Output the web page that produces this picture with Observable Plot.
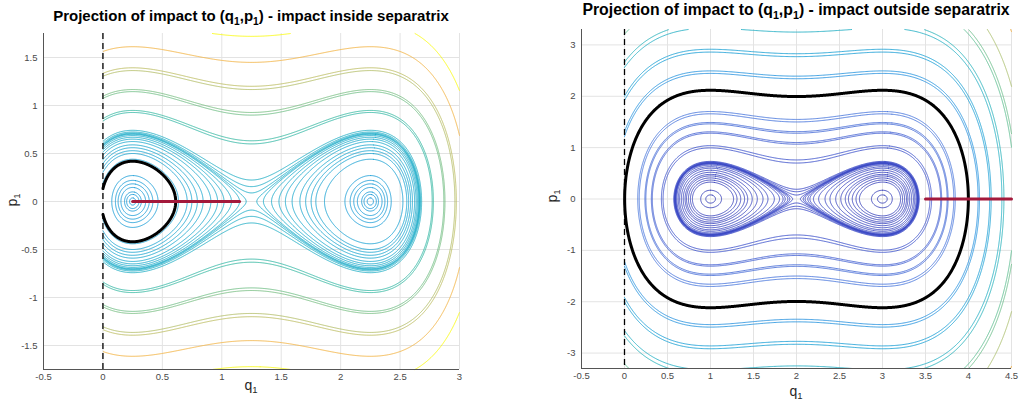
<!DOCTYPE html>
<html><head><meta charset="utf-8">
<script src="https://cdn.jsdelivr.net/npm/d3@7"></script>
<script src="https://cdn.jsdelivr.net/npm/@observablehq/plot@0.6"></script>
<style>
body{margin:0;background:#fff;font-family:"Liberation Sans",Arial,Helvetica,sans-serif;}
#root{position:relative;width:1019px;height:407px;overflow:hidden;background:#fff;}
.panel{position:absolute;top:0;}
.title{position:absolute;font-weight:bold;font-size:15px;line-height:15px;color:#000;white-space:nowrap;transform:translateX(-50%);}
.title.big{font-size:15.8px;line-height:15.8px;}
.lab{position:absolute;font-size:14px;line-height:14px;color:#262626;white-space:nowrap;}
.ylab{transform:translate(-50%,-50%) rotate(-90deg);}
.xlab{transform:translateX(-50%);}
sub{font-size:0.68em;vertical-align:-0.35em;line-height:0;}
</style></head>
<body><div id="root"></div>
<script>
// ---------------- data ----------------
// left panel: impact inside separatrix
const leftTitle = "Projection of impact to (q<sub>1</sub>,p<sub>1</sub>) - impact inside separatrix";
const leftXDomain = [-0.5, 3];
const leftYDomain = [-1.75, 1.75];
const leftXTicks = [-0.5, 0, 0.5, 1, 1.5, 2, 2.5, 3];
const leftYTicks = [-1.5, -1, -0.5, 0, 0.5, 1, 1.5];
const leftSaddleQ = 1.25;                 // saddle of the double well
const leftWellLevels = [0.0007, 0.0027, 0.005, 0.0107, 0.0169, 0.0242, 0.0365,
  0.097, 0.125, 0.14, 0.157, 0.174, 0.195, 0.211, 0.224, 0.236, 0.245, 0.249];
const leftOuterLevels = [0.254, 0.262, 0.275, 0.43, 0.45, 0.655, 0.68, 0.93, 0.97, 1.30, 1.73];
const leftBlackLevel = [0.088];
const leftImpactQ = [0.25, 1.15];
const leftImpactP = [0, 0];

// right panel: impact outside separatrix
const rightTitle = "Projection of impact to (q<sub>1</sub>,p<sub>1</sub>) - impact outside separatrix";
const rightXDomain = [-0.5, 4.5];
const rightYDomain = [-3.3, 3.3];
const rightXTicks = [-0.5, 0, 0.5, 1, 1.5, 2, 2.5, 3, 3.5, 4, 4.5];
const rightYTicks = [-3, -2, -1, 0, 1, 2, 3];
const rightSaddleQ = 2;
const rightWellLevels = [0.0032, 0.0145, 0.054, 0.068, 0.084, 0.101, 0.115, 0.135, 0.157,
  0.18, 0.198, 0.218, 0.231, 0.238, 0.2415, 0.245, 0.247, 0.249];
const rightOuterLevels = [0.253, 0.26, 0.268, 0.495, 0.539, 0.82, 0.855, 1.07, 1.11, 1.375, 1.45,
  2.99, 3.11, 4.09, 4.25, 5.53, 5.8, 7.4, 7.7, 9.3, 12.2];
const rightBlackLevel = [2.24];
const rightImpactQ = [3.5, 4.5];
const rightImpactP = [0, 0];

// parula-like colour ramp
const rampStops = [0, 0.08, 0.17, 0.25, 0.33, 0.41, 0.5, 0.62, 0.75, 0.87, 1];
const rampColors = ["#352a87", "#3d4cc8", "#4a7fe0", "#2890e0", "#1c9fd6", "#1eacca",
  "#38b99e", "#8ec078", "#d2ba58", "#fbb03b", "#f9fb0e"];

// ---------------- helpers ----------------
function contourLines(H, levels, xr, yr, step) {
  const m = 0.05;
  const x0 = xr[0] - m, x1 = xr[1] + m, y0 = yr[0] - m, y1 = yr[1] + m;
  const nx = Math.ceil((x1 - x0) / step) + 1, ny = Math.ceil((y1 - y0) / step) + 1;
  const values = new Float64Array(nx * ny);
  for (let j = 0; j < ny; j++) for (let i = 0; i < nx; i++)
    values[i + j * nx] = H(x0 + i * step, y0 + j * step);
  const gen = d3.contours().size([nx, ny]).thresholds(levels);
  const out = [];
  let id = 0;
  for (const c of gen(values)) {
    for (const poly of c.coordinates) for (const ring of poly) {
      id++;
      for (const [gx, gy] of ring) {
        const q = x0 + (gx - 0.5) * step, p = y0 + (gy - 0.5) * step;
        const inside = q >= xr[0] && q <= xr[1] && p >= yr[0] && p <= yr[1];
        out.push({q: inside ? q : NaN, p, level: c.value, id});
      }
    }
  }
  return out;
}

function panel(cfg) {
  const color = d3.scaleLinear()
    .domain(rampStops.map(t => (t - cfg.t0) / cfg.slope))
    .range(rampColors).clamp(true);
  const H = (q, p) => p * p / 2 + Math.pow((q - cfg.saddle) * (q - cfg.saddle) - 1, 2) / 4;
  const levels = cfg.wellLevels.concat(cfg.outerLevels);
  const lines = contourLines(H, levels, [0, cfg.xDomain[1]], cfg.yDomain, cfg.step);
  lines.forEach(d => d.color = color(d.level));
  const black = contourLines(H, cfg.blackLevel, [0, cfg.blackXMax], cfg.yDomain, cfg.step / 2);
  const impact = cfg.impactQ.map((q, i) => ({q, p: cfg.impactP[i]}));
  return Plot.plot({
    width: cfg.width, height: 407,
    marginLeft: cfg.ml, marginRight: cfg.mr, marginTop: cfg.mt, marginBottom: cfg.mb,
    style: {fontFamily: "Liberation Sans, Arial, sans-serif", fontSize: "9.5px", color: "#4a4a4a", background: "white"},
    x: {domain: cfg.xDomain, ticks: cfg.xTicks, tickFormat: d => String(d), tickSize: 0, tickPadding: 4, label: null},
    y: {domain: cfg.yDomain, ticks: cfg.yTicks, tickFormat: d => String(d), tickSize: 0, tickPadding: 6, label: null},
    color: {type: "identity"},
    marks: [
      Plot.gridX(cfg.xTicks, {stroke: "#e3e3e3", strokeOpacity: 1}),
      Plot.gridY(cfg.yTicks, {stroke: "#e3e3e3", strokeOpacity: 1}),
      Plot.line(lines, {x: "q", y: "p", z: "id", stroke: "color", strokeWidth: 1, strokeOpacity: 0.9}),
      Plot.line(black, {x: "q", y: "p", z: "id", stroke: "#000", strokeWidth: 3}),
      Plot.ruleX([0], {stroke: "#000", strokeWidth: 1.3, strokeDasharray: "6,4"}),
      Plot.line(impact, {x: "q", y: "p", stroke: "#a3193b", strokeWidth: 3}),
      Plot.ruleX([cfg.xDomain[0]], {stroke: "#555", strokeWidth: 1}),
      Plot.ruleY([cfg.yDomain[0]], {stroke: "#555", strokeWidth: 1})
    ]
  });
}

const root = document.getElementById("root");
function place(node, left) {
  const d = document.createElement("div");
  d.className = "panel"; d.style.left = left + "px";
  d.appendChild(node); root.appendChild(d);
}
function label(html, cls, x, y) {
  const d = document.createElement("div");
  d.className = cls; d.innerHTML = html;
  d.style.left = x + "px"; d.style.top = y + "px";
  root.appendChild(d);
}

place(panel({
  width: 510, ml: 43, mr: 51, mt: 33, mb: 38,
  xDomain: leftXDomain, yDomain: leftYDomain, xTicks: leftXTicks, yTicks: leftYTicks,
  saddle: leftSaddleQ, wellLevels: leftWellLevels, outerLevels: leftOuterLevels,
  blackLevel: leftBlackLevel, blackXMax: leftSaddleQ, impactQ: leftImpactQ, impactP: leftImpactP,
  t0: 0.31, slope: 0.41, step: 0.006
}), 0);
place(panel({
  width: 509, ml: 71, mr: 8, mt: 29, mb: 39,
  xDomain: rightXDomain, yDomain: rightYDomain, xTicks: rightXTicks, yTicks: rightYTicks,
  saddle: rightSaddleQ, wellLevels: rightWellLevels, outerLevels: rightOuterLevels,
  blackLevel: rightBlackLevel, blackXMax: rightXDomain[1], impactQ: rightImpactQ, impactP: rightImpactP,
  t0: 0.06, slope: 0.066, step: 0.01
}), 510);

label(leftTitle, "title", 251, 8);
label(rightTitle, "title big", 796, 2);
label("q<sub>1</sub>", "lab xlab", 251, 378);
label("q<sub>1</sub>", "lab xlab", 796, 384);
label("p<sub>1</sub>", "lab ylab", 12, 200);
label("p<sub>1</sub>", "lab ylab", 552, 196);
</script></body></html>
